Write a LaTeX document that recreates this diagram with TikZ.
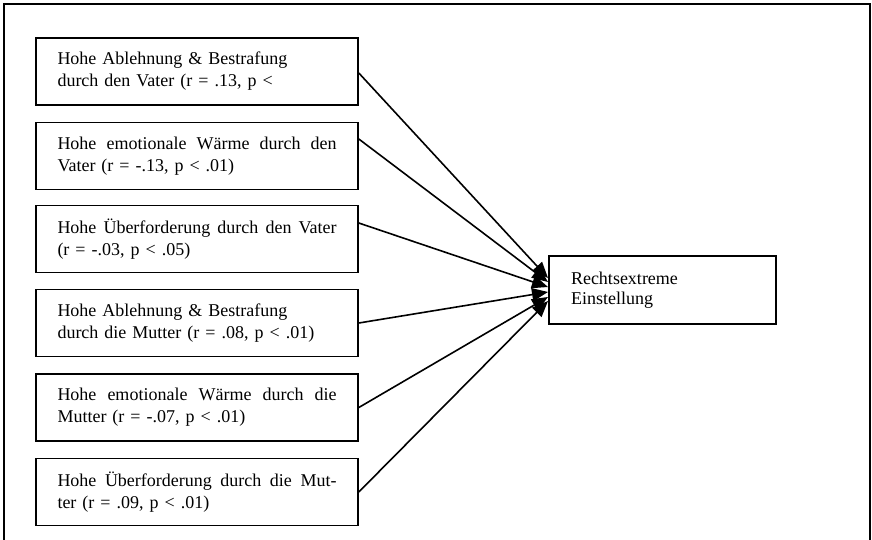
\documentclass[tikz,border=0pt]{standalone}
\usepackage{fontspec}
\setmainfont{Liberation Serif}
\usetikzlibrary{arrows.meta}
\newcommand{\jline}[1]{\makebox[279pt][l]{#1}}
\begin{document}
\begin{tikzpicture}[x=1pt,y=-1pt,
  srcbox/.style={draw,line width=1.6pt,minimum width=322pt,minimum height=67pt,inner sep=0pt,
    text width=279pt,align=left,font=\fontsize{18}{22}\selectfont},
  tgtbox/.style={draw,line width=1.6pt,minimum width=227pt,minimum height=68pt,inner sep=0pt,
    text width=183pt,align=left,font=\fontsize{18}{20}\selectfont},
  conn/.style={line width=1.6pt,-{Triangle[length=16pt,width=13pt]}}]
\useasboundingbox (0,0) rectangle (872,539);
\draw[line width=1.6pt] (4,4) rectangle (870,560);
\node[srcbox] (b1) at (197,71.5) {Hohe Ablehnung \& Bestrafung\\durch den Vater (r = .13, p <};
\node[srcbox] (b2) at (197,156) {\jline{Hohe\hfill emotionale\hfill Wärme\hfill durch\hfill den}\\Vater (r = -.13, p < .01)};
\node[srcbox] (b3) at (197,239) {\jline{Hohe\hfill Überforderung\hfill durch\hfill den\hfill Vater}\\(r = -.03, p < .05)};
\node[srcbox] (b4) at (197,323) {Hohe Ablehnung \& Bestrafung\\durch die Mutter (r = .08, p < .01)};
\node[srcbox] (b5) at (197,407.5) {\jline{Hohe\hfill emotionale\hfill Wärme\hfill durch\hfill die}\\Mutter (r = -.07, p < .01)};
\node[srcbox] (b6) at (197,492) {\jline{Hohe\hfill Überforderung\hfill durch\hfill die\hfill Mut-}\\ter (r = .09, p < .01)};
\node[tgtbox] (t) at (662.5,290) {Rechtsextreme\\Einstellung};
\coordinate (e1) at (548,278);
\coordinate (e2) at (548,282);
\coordinate (e3) at (548,287);
\coordinate (e4) at (548,292);
\coordinate (e5) at (548,297);
\coordinate (e6) at (548,301);
\draw[conn] (b1.east) ++(0,1.5) coordinate (s1) -- (e1);
\draw[conn] (b2.east) ++(0,-17) coordinate (s2) -- (e2);
\draw[conn] (b3.east) ++(0,-16) coordinate (s3) -- (e3);
\draw[conn] (b4.east) -- (e4);
\draw[conn] (b5.east) -- (e5);
\draw[conn] (b6.east) -- (e6);
\end{tikzpicture}
\end{document}
